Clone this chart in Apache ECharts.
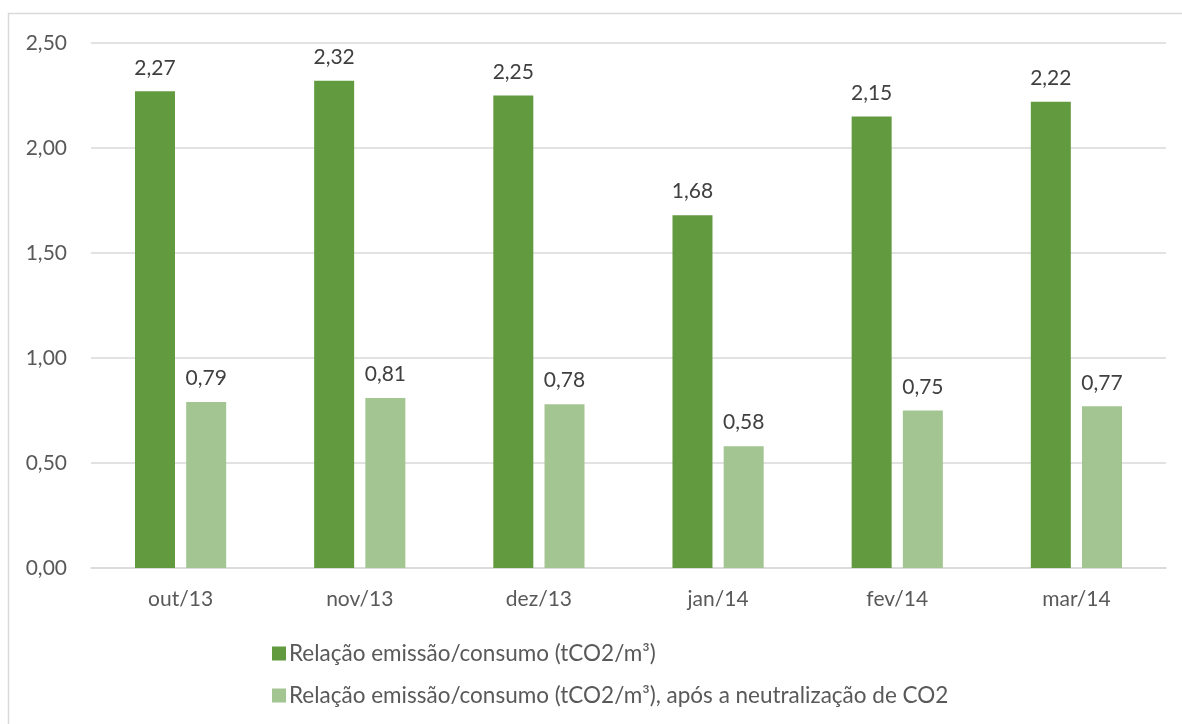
<!DOCTYPE html>
<html><head><meta charset="utf-8">
<script src="https://cdn.jsdelivr.net/npm/echarts@6/dist/echarts.min.js"></script>
<style>html,body{margin:0;padding:0;background:#fff}#c{width:1182px;height:724px}</style>
</head><body><div id="c"></div>
<script>
const categories = ['out/13','nov/13','dez/13','jan/14','fev/14','mar/14'];
const seriesNames = ['Relação emissão/consumo (tCO2/m³)','Relação emissão/consumo (tCO2/m³), após a neutralização de CO2'];
const emissao = [2.27, 2.32, 2.25, 1.68, 2.15, 2.22];
const neutralizado = [0.79, 0.81, 0.78, 0.58, 0.75, 0.77];
const yTicks = [0, 0.5, 1.0, 1.5, 2.0, 2.5];

const font = 'Lato, "Open Sans", sans-serif';
const fmt = v => v.toFixed(2).replace('.', ',');
const chart = echarts.init(document.getElementById('c'));
chart.setOption({
  animation: false,
  textStyle: {fontFamily: font},
  graphic: [{type:'rect', shape:{x:8.5,y:13.5,width:1200,height:760}, style:{fill:'none',stroke:'#d9d9d9',lineWidth:1.5}, silent:true}],
  grid: {left: 91, right: 16, top: 43, bottom: 156},
  legend: {orient:'vertical', left: 267, top: 637, itemWidth: 14, itemHeight: 14, itemGap: 19, icon:'rect',
    textStyle:{fontSize:22.5, color:'#595959', fontFamily: font, padding:[0,0,0,-2]}, data: seriesNames},
  xAxis: {type:'category', data: categories, axisTick:{show:false},
    axisLine:{lineStyle:{color:'#d9d9d9', width:1.5}},
    axisLabel:{fontSize:21, color:'#595959', margin:21, fontFamily: font}},
  yAxis: {type:'value', min: yTicks[0], max: yTicks[yTicks.length-1], interval: 0.5,
    axisLine:{show:false}, axisTick:{show:false},
    splitLine:{lineStyle:{color:'#d9d9d9', width:1.5}},
    axisLabel:{fontSize:21, color:'#595959', margin:24, formatter: v => fmt(v), fontFamily: font}},
  series: [
    {name: seriesNames[0], type:'bar', data: emissao, barWidth: 40, barGap: '28%', itemStyle:{color:'#629a3f'},
      label:{show:true, position:'top', distance:13, fontSize:21, color:'#404040', formatter: p => fmt(p.value), fontFamily: font}},
    {name: seriesNames[1], type:'bar', data: neutralizado, barWidth: 40, itemStyle:{color:'#a3c592'},
      label:{show:true, position:'top', distance:13, fontSize:21, color:'#404040', formatter: p => fmt(p.value), fontFamily: font}}
  ]
});
</script></body></html>
